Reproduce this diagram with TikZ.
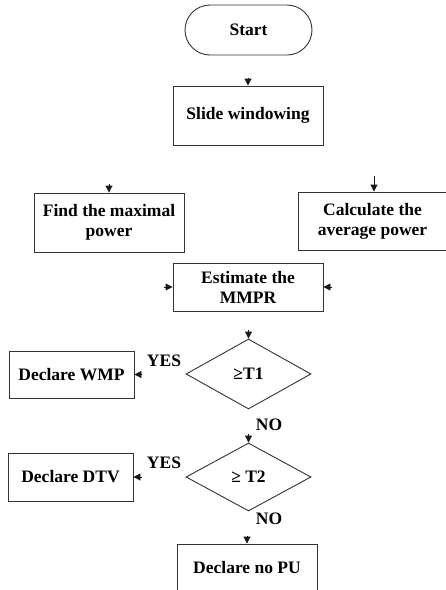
\documentclass[tikz,border=0pt]{standalone}
\usepackage{fontspec}
\setmainfont{Liberation Serif}
\usetikzlibrary{shapes.geometric,shapes.misc,arrows.meta}
\begin{document}
\begin{tikzpicture}[x=1pt,y=-1pt,
  every node/.style={font=\fontsize{17.5}{20}\selectfont\bfseries},
  box/.style={draw=black!80, line width=0.9pt, rectangle, inner sep=0pt, align=center},
  term/.style={draw=black!80, line width=0.9pt, rounded rectangle, inner sep=0pt, minimum width=127pt, minimum height=50pt},
  dec/.style={draw=black!80, line width=0.9pt, diamond, inner sep=0pt, minimum width=125pt, minimum height=70pt},
  arr/.style={-{Triangle[length=7pt,width=7pt]}, line width=0.9pt, black!90},
  lbl/.style={inner sep=0pt}
]
\useasboundingbox (0,0) rectangle (446,590);

\node[term] (start) at (248.5,30) {Start};
\node[box, minimum width=150pt, minimum height=59pt] (slide) at (248,115.5) {Slide windowing};
\node[box, minimum width=150pt, minimum height=59pt] (find) at (109,222.5) {Find the maximal\\power};
\node[box, minimum width=149pt, minimum height=58pt] (calc) at (372.5,221) {Calculate the\\average power};
\node[box, minimum width=150pt, minimum height=48pt] (est) at (248,287) {Estimate the\\MMPR};
\node[dec] (t1) at (248.5,374) {≥T1};
\node[box, minimum width=125pt, minimum height=47pt] (wmp) at (71.5,374.5) {Declare WMP};
\node[dec, minimum height=68pt] (t2) at (248.5,477) {≥ T2};
\node[box, minimum width=125pt, minimum height=48pt] (dtv) at (70.5,477) {Declare DTV};
\node[box, minimum width=140pt, minimum height=48pt] (nopu) at (247,568) {Declare no PU};

\node[lbl] (yes1) at (164,361) {YES};
\node[lbl] (no1) at (269,425) {NO};
\node[lbl] (yes2) at (164,463) {YES};
\node[lbl] (no2) at (269,519) {NO};

\coordinate (a1) at (248,78);
\coordinate (a2) at (109,184);
\coordinate (a3) at (374,176);
\coordinate (a4) at (164,287);
\coordinate (a5) at (332,287);
\coordinate (a6) at (248.5,330);
\coordinate (a7) at (142,374.5);
\coordinate (a8) at (248.5,434);
\coordinate (a9) at (142,477);
\coordinate (a10) at (247,536);

\draw[arr] (a1) -- (slide.north);
\draw[arr] (a2) -- (find.north);
\draw[arr] (a3) -- (a3 |- calc.north);
\draw[arr] (a4) -- (est.west);
\draw[arr] (a5) -- (est.east);
\draw[arr] (a6) -- (t1.north);
\draw[arr] (a7) -- (wmp.east);
\draw[arr] (a8) -- (t2.north);
\draw[arr] (a9) -- (dtv.east);
\draw[arr] (a10) -- (nopu.north);
\end{tikzpicture}
\end{document}
